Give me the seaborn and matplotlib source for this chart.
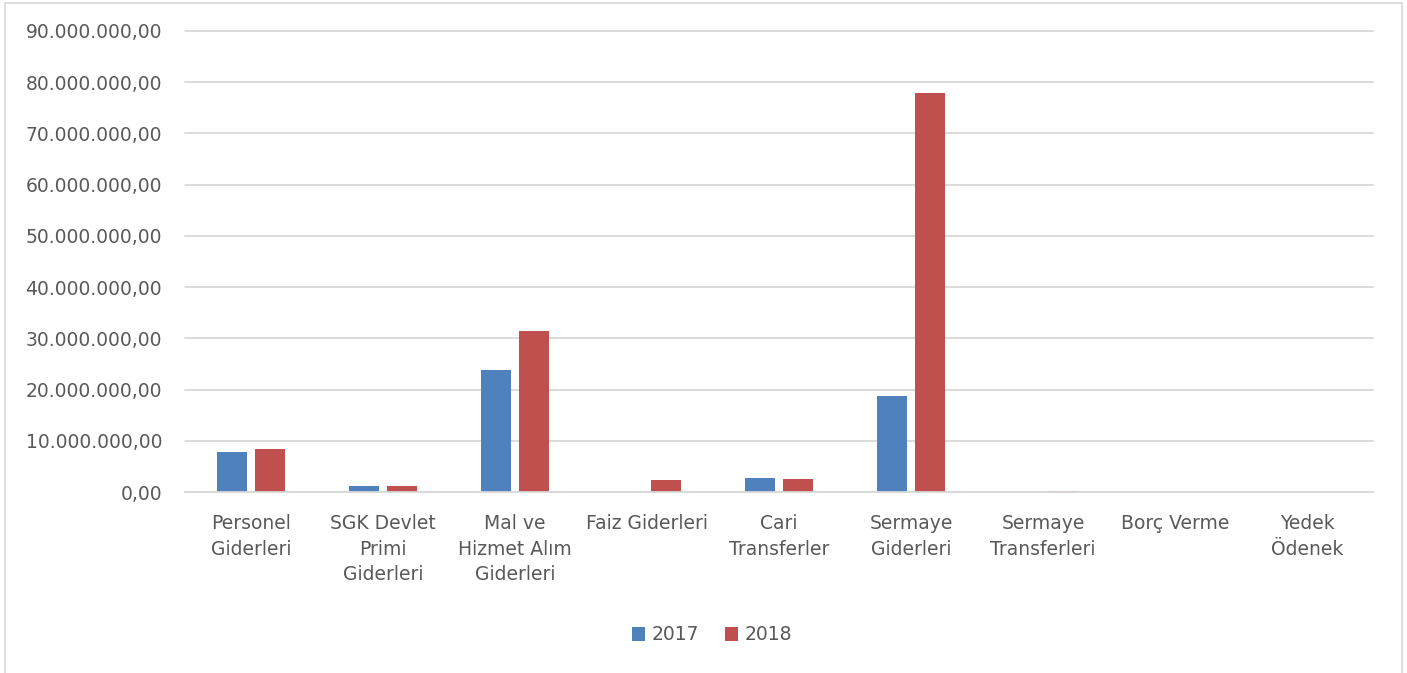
import matplotlib
matplotlib.use("Agg")
import matplotlib.pyplot as plt
import seaborn as sns
import pandas as pd
from matplotlib.patches import Rectangle
from matplotlib.ticker import FuncFormatter, MultipleLocator

categories = ["Personel\nGiderleri", "SGK Devlet\nPrimi\nGiderleri", "Mal ve\nHizmet Alım\nGiderleri",
              "Faiz Giderleri", "Cari\nTransferler", "Sermaye\nGiderleri", "Sermaye\nTransferleri",
              "Borç Verme", "Yedek\nÖdenek"]
values_2017 = [7900000, 1100000, 23800000, 0, 2730000, 18750000, 0, 0, 0]
values_2018 = [8400000, 1230000, 31400000, 2280000, 2540000, 77900000, 200000, 0, 0]
years = ["2017", "2018"]

df = pd.DataFrame({
    "cat": categories * 2,
    "value": values_2017 + values_2018,
    "year": [years[0]] * len(categories) + [years[1]] * len(categories),
})

sns.set_theme(style="white")
plt.rcParams['font.family'] = ['DejaVu Sans']

fig = plt.figure(figsize=(14.07, 6.73), dpi=100)
ax = fig.add_axes([185 / 1407, 1 - 492 / 673, 1188 / 1407, 461 / 673])

sns.barplot(data=df, x="cat", y="value", hue="year", order=categories,
            palette={"2017": "#4F81BD", "2018": "#C0504D"},
            width=0.571, gap=0.22, ax=ax, legend=True, edgecolor="none", saturation=1)

ax.set_ylim(0, 90000000)
ax.set_xlim(-0.5, len(categories) - 0.5)
ax.yaxis.set_major_locator(MultipleLocator(10000000))

def fmt(v, pos):
    s = f"{v:,.2f}"
    return s.replace(",", "X").replace(".", ",").replace("X", ".")
ax.yaxis.set_major_formatter(FuncFormatter(fmt))

ax.grid(axis="y", color="#d9d9d9", linewidth=1.3)
for gl in ax.get_ygridlines():
    gl.set_clip_on(False)
ax.set_axisbelow(True)
for s in ["top", "right", "left"]:
    ax.spines[s].set_visible(False)
ax.spines["bottom"].set_color("#d9d9d9")
ax.spines["bottom"].set_linewidth(1.3)
ax.set_xlabel("")
ax.set_ylabel("")
ax.tick_params(axis="both", length=0, labelsize=13.5, colors="#595959")
ax.tick_params(axis="x", pad=16)
for lab in ax.get_xticklabels():
    lab.set_linespacing(1.42)
ax.tick_params(axis="y", pad=16.5)

handles, labels = ax.get_legend_handles_labels()
ax.legend(handles, labels, loc="center", bbox_to_anchor=(712 / 1407, 1 - 635 / 673),
          bbox_transform=fig.transFigure, ncol=2, frameon=False, fontsize=13.5,
          handlelength=0.7, handleheight=0.7, handletextpad=0.35, columnspacing=1.4,
          labelcolor="#595959")

fig.patches.append(Rectangle((5 / 1407, -0.01), 1397 / 1407, 1 - 3 / 673 + 0.01,
                             transform=fig.transFigure, fill=False,
                             edgecolor="#d9d9d9", linewidth=1.2))

fig.savefig("out.png", dpi=100, facecolor="white")
